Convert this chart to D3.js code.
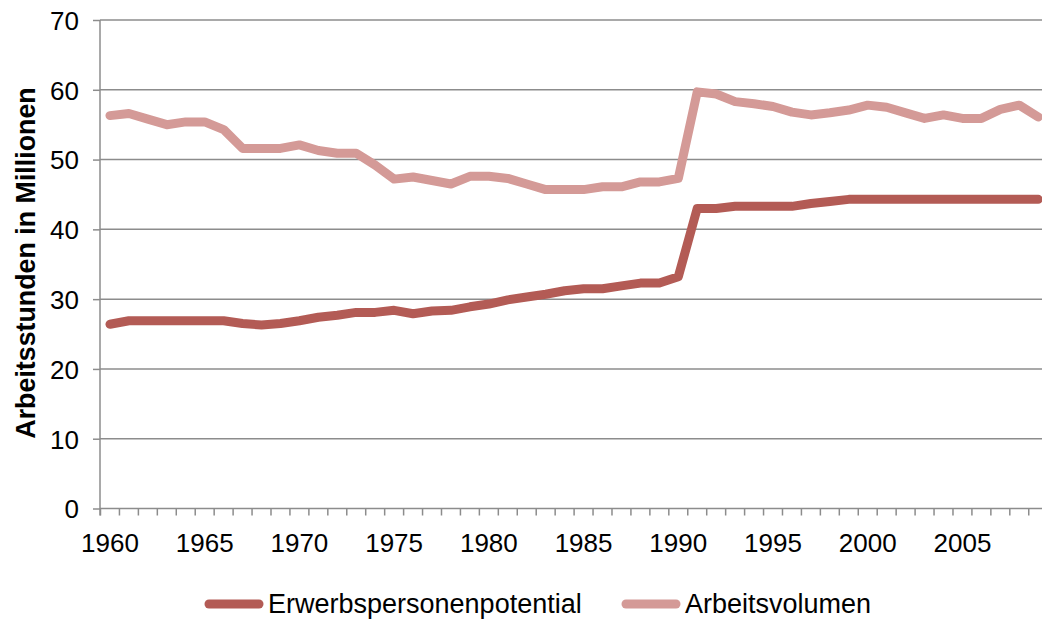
<!DOCTYPE html>
<html><head><meta charset="utf-8">
<script src="https://cdn.jsdelivr.net/npm/d3@7"></script>
<style>body{margin:0;background:#fff}svg{display:block}text{font-family:"Liberation Sans",Arial,sans-serif;fill:#000}</style>
</head><body><svg id="c" width="1042" height="619"></svg>
<script>
const years = [1960,1961,1962,1963,1964,1965,1966,1967,1968,1969,1970,1971,1972,1973,1974,1975,1976,1977,1978,1979,1980,1981,1982,1983,1984,1985,1986,1987,1988,1989,1990,1991,1992,1993,1994,1995,1996,1997,1998,1999,2000,2001,2002,2003,2004,2005,2006,2007,2008,2009];
const erwerbspersonenpotential = [26.4,26.9,26.9,26.9,26.9,26.9,26.9,26.5,26.3,26.5, 26.9,27.4,27.7,28.1,28.1,28.4,27.9,28.3,28.4,28.9, 29.3,29.9,30.3,30.7,31.2,31.5,31.5,31.9,32.3,32.3, 33.2,43.0,43.0,43.3,43.3,43.3,43.3,43.7,44.0,44.3, 44.3,44.3,44.3,44.3,44.3,44.3,44.3,44.3,44.3,44.3];
const arbeitsvolumen = [56.3,56.6,55.8,55.0,55.4,55.4,54.3,51.6,51.6,51.6, 52.1,51.3,50.9,50.9,49.2,47.2,47.5,47.0,46.5,47.6, 47.6,47.3,46.5,45.7,45.7,45.7,46.1,46.1,46.8,46.8, 47.3,59.7,59.4,58.3,58.0,57.6,56.8,56.4,56.7,57.1, 57.8,57.5,56.7,55.9,56.4,55.9,55.9,57.2,57.8,56.1];
const xTickLabels = [1960,1965,1970,1975,1980,1985,1990,1995,2000,2005];
const yTicks = [0,10,20,30,40,50,60,70];
const seriesNames = ["Erwerbspersonenpotential","Arbeitsvolumen"];
const seriesColors = ["#b35b55","#d49a97"];

const svg = d3.select("#c");
const x = d3.scaleBand().domain(years).range([100.5, 1047.7]).paddingInner(0).paddingOuter(0);
const y = d3.scaleLinear().domain([0,70]).range([508.5, 20]);
const grid = "#8c8c8c";

// gridlines
svg.append("g").selectAll("line").data(yTicks.filter(d=>d>0)).join("line")
  .attr("x1",100).attr("x2",1048).attr("y1",d=>y(d)).attr("y2",d=>y(d))
  .attr("stroke",grid).attr("stroke-width",1.5);

// y axis
const yAxis = d3.axisLeft(y).tickValues(yTicks).tickSize(7).tickPadding(14);
const gy = svg.append("g").attr("transform","translate(100,0)").call(yAxis);
gy.select(".domain").attr("stroke",grid).attr("stroke-width",1.5).attr("d","M0,20V515.5");
gy.selectAll(".tick line").attr("stroke",grid).attr("stroke-width",1.5);
gy.selectAll(".tick text").attr("font-size","26px").attr("font-family","Liberation Sans, Arial, sans-serif").attr("fill","#000").attr("dy","0.36em");

// x axis line + year ticks at category boundaries
svg.append("line").attr("x1",100).attr("x2",1048).attr("y1",y(0)).attr("y2",y(0)).attr("stroke",grid).attr("stroke-width",1.5);
svg.append("g").selectAll("line").data(years).join("line")
  .attr("x1",d=>x(d)).attr("x2",d=>x(d)).attr("y1",y(0)).attr("y2",y(0)+7)
  .attr("stroke",grid).attr("stroke-width",1.5);
svg.append("g").selectAll("text").data(xTickLabels).join("text")
  .attr("x",d=>x(d)+x.bandwidth()/2).attr("y",552).attr("text-anchor","middle")
  .attr("font-size","26px").text(d=>d);

// y title
svg.append("text").attr("transform","translate(35,263) rotate(-90)").attr("text-anchor","middle")
  .attr("font-size","26.8px").attr("font-weight","bold").text("Arbeitsstunden in Millionen");

// lines
const line = d3.line().x((d,i)=>x(years[i])+x.bandwidth()/2).y(d=>y(d));
[erwerbspersonenpotential, arbeitsvolumen].forEach((s,k)=>{
  svg.append("path").datum(s).attr("d",line).attr("fill","none")
    .attr("stroke",seriesColors[k]).attr("stroke-width",9)
    .attr("stroke-linejoin","round").attr("stroke-linecap","round");
});

// legend
const legX = [205, 622];
seriesNames.forEach((n,k)=>{
  const g = svg.append("g");
  g.append("line").attr("x1",legX[k]+4).attr("x2",legX[k]+54).attr("y1",604).attr("y2",604)
    .attr("stroke",seriesColors[k]).attr("stroke-width",9).attr("stroke-linecap","round");
  g.append("text").attr("x",legX[k]+63).attr("y",613).attr("font-size","27px").text(n);
});
</script></body></html>
